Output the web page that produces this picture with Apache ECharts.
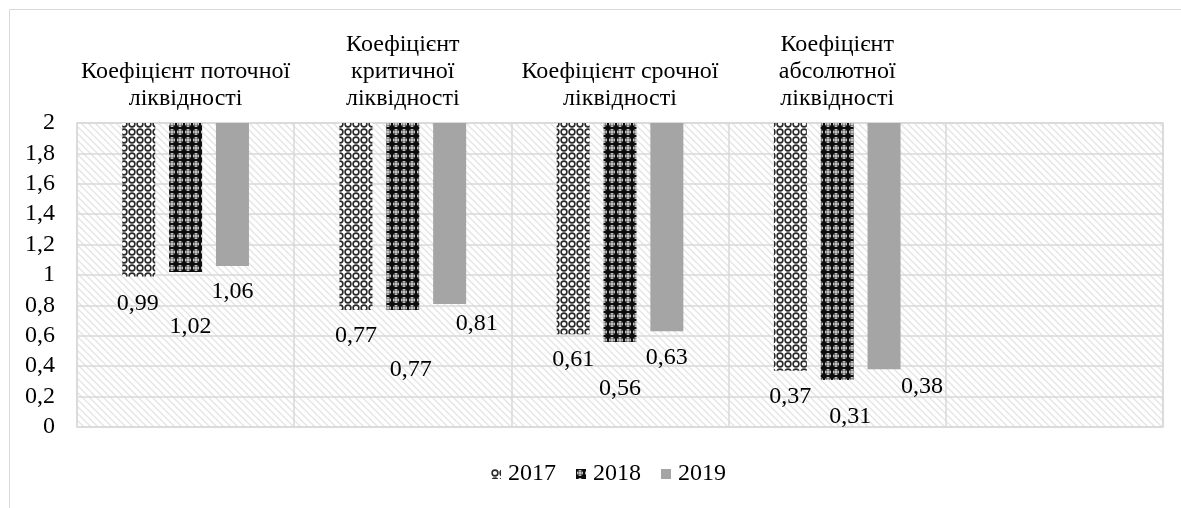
<!DOCTYPE html>
<html>
<head>
    <meta charset="UTF-8">
    <script src="https://cdn.jsdelivr.net/npm/echarts@6/dist/echarts.min.js"></script>
    <style>
        html, body { margin: 0; padding: 0; background: #fff; }
        #chart { width: 1181px; height: 508px; }
    </style>
</head>
<body>
<div id="chart"></div>
<script>
    // categories along the top axis (last one is empty in the original)
    var categories = [
        'Коефіцієнт поточної\nліквідності',
        'Коефіцієнт\nкритичної\nліквідності',
        'Коефіцієнт срочної\nліквідності',
        'Коефіцієнт\nабсолютної\nліквідності',
        ''
    ];
    var years = ['2017', '2018', '2019'];
    var values2017 = [0.99, 0.77, 0.61, 0.37];
    var values2018 = [1.02, 0.77, 0.56, 0.31];
    var values2019 = [1.06, 0.81, 0.63, 0.38];
    var axisMax = 2;

    // label nudges (dx, dy below bar end) - the labels were moved by hand in the original
    var labelShift = {
        '2017': [[-1, 28], [0, 27], [0, 26], [0, 27]],
        '2018': [[5, 56], [8, 61], [0, 48], [13, 38]],
        '2019': [[0, 27], [27, 21], [0, 27], [38, 18]]
    };

    var FONT = '"Liberation Serif", "Times New Roman", serif';
    var FS = 24;

    function makeTile(size, draw) {
        var c = document.createElement('canvas');
        c.width = size;
        c.height = size;
        draw(c.getContext('2d'));
        return { image: c, repeat: 'repeat' };
    }

    // light diagonal hatch behind the plot
    var hatch = makeTile(7, function (ctx) {
        ctx.fillStyle = '#ffffff';
        ctx.fillRect(0, 0, 7, 7);
        ctx.strokeStyle = '#e4e4e4';
        ctx.lineWidth = 1.3;
        for (var k = -7; k <= 7; k += 7) {
            ctx.beginPath();
            ctx.moveTo(k - 1, -1);
            ctx.lineTo(k + 8, 8);
            ctx.stroke();
        }
    });

    // 2017: dark rings on white
    var pat2017 = makeTile(8, function (ctx) {
        ctx.fillStyle = '#ffffff';
        ctx.fillRect(0, 0, 8, 8);
        ctx.strokeStyle = '#2a2a2a';
        ctx.lineWidth = 1.6;
        ctx.beginPath();
        ctx.arc(4, 4, 2.9, 0, Math.PI * 2);
        ctx.stroke();
    });

    // 2018: black with white crosses
    var pat2018 = makeTile(8, function (ctx) {
        ctx.fillStyle = '#0d0d0d';
        ctx.fillRect(0, 0, 8, 8);
        ctx.strokeStyle = '#8a8a8a';
        ctx.lineWidth = 1;
        ctx.beginPath();
        ctx.arc(4, 4, 2.6, 0, Math.PI * 2);
        ctx.stroke();
        ctx.fillStyle = '#ffffff';
        ctx.fillRect(3.5, 1, 1, 6);
        ctx.fillRect(1, 3.5, 6, 1);
    });

    var colors = { '2017': pat2017, '2018': pat2018, '2019': '#a5a5a5' };
    var valuesByYear = { '2017': values2017, '2018': values2018, '2019': values2019 };

    function fmt(v) {
        return String(Math.round(v * 100) / 100).replace('.', ',');
    }

    var series = [];
    years.forEach(function (y) {
        var vals = valuesByYear[y];
        // invisible base up to the value
        series.push({
            name: 'base' + y,
            type: 'bar',
            stack: 's' + y,
            barWidth: 33,
            barGap: '42%',
            silent: true,
            itemStyle: { color: 'rgba(0,0,0,0)' },
            data: vals
        });
        // visible part from the value up to the top of the axis
        series.push({
            name: y,
            type: 'bar',
            stack: 's' + y,
            barWidth: 33,
            barGap: '42%',
            itemStyle: { color: colors[y] },
            data: vals.map(function (v, i) {
                return {
                    value: Math.round((axisMax - v) * 100) / 100,
                    label: {
                        offset: [labelShift[y][i][0], labelShift[y][i][1] - 13]
                    }
                };
            }),
            label: {
                show: true,
                position: 'bottom',
                distance: 0,
                fontFamily: FONT,
                fontSize: FS,
                color: '#000',
                formatter: function (p) { return fmt(vals[p.dataIndex]); }
            }
        });
    });

    var chart = echarts.init(document.getElementById('chart'), null, { renderer: 'canvas' });
    chart.setOption({
        animation: false,
        backgroundColor: '#fff',
        graphic: [{
            type: 'rect',
            shape: { x: 9.5, y: 9.5, width: 1300, height: 600 },
            style: { fill: 'none', stroke: '#d9d9d9', lineWidth: 1 },
            silent: true,
            z: -1
        }],
        grid: {
            left: 77,
            right: 18,
            top: 123,
            bottom: 81,
            show: true,
            backgroundColor: hatch,
            borderColor: '#d9d9d9',
            borderWidth: 1.5
        },
        legend: {
            data: years,
            bottom: 17,
            left: 486,
            itemWidth: 10,
            itemHeight: 10,
            itemGap: 20,
            icon: 'rect',
            textStyle: { fontFamily: FONT, fontSize: FS, color: '#000', padding: [0, 0, 0, 2] }
        },
        xAxis: {
            type: 'category',
            position: 'top',
            data: categories,
            axisLine: { show: false },
            axisTick: { show: false },
            splitLine: { show: true, lineStyle: { color: '#d9d9d9', width: 1.5 } },
            axisLabel: {
                interval: 0,
                margin: 11,
                fontFamily: FONT,
                fontSize: FS,
                lineHeight: 27,
                color: '#000',
                align: 'center'
            }
        },
        yAxis: {
            type: 'value',
            min: 0,
            max: axisMax,
            interval: 0.2,
            axisLine: { show: false },
            axisTick: { show: false },
            splitLine: { show: true, lineStyle: { color: '#d9d9d9', width: 1.5 } },
            axisLabel: {
                margin: 22,
                fontFamily: FONT,
                fontSize: FS,
                color: '#000',
                formatter: function (v) { return fmt(v); }
            }
        },
        series: series
    });
</script>
</body>
</html>
